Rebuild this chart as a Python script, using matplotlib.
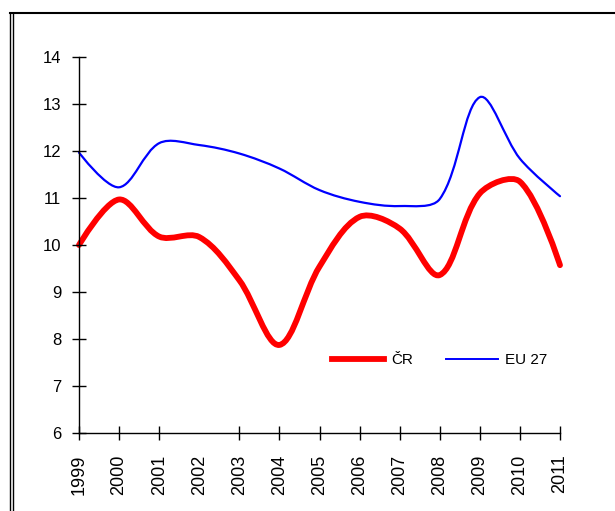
"""Unemployment-style comparison chart: CR vs EU 27 (smoothed lines)."""

import matplotlib

matplotlib.use("Agg")
import matplotlib.pyplot as plt
import numpy as np
from matplotlib.lines import Line2D
from matplotlib.patches import PathPatch
from matplotlib.path import Path

years = [1999, 2000, 2001, 2002, 2003, 2004, 2005, 2006, 2007, 2008, 2009, 2010, 2011]
year_labels = [str(y) for y in years]
cr_values = [10.0, 10.97, 10.18, 10.17, 9.25, 7.87, 9.54, 10.6, 10.35, 9.36, 11.1, 11.35, 9.57]
eu_values = [11.97, 11.23, 12.17, 12.13, 11.95, 11.63, 11.17, 10.92, 10.83, 10.98, 13.15, 11.84, 11.04]
y_ticks = [6, 7, 8, 9, 10, 11, 12, 13, 14]
series_names = ["ČR", "EU 27"]

plt.rcParams["font.family"] = ["Liberation Sans", "DejaVu Sans"]


def smooth_path(ax, xs, ys):
    """Bezier path through the points, control arms scaled by screen segment length."""
    pts = np.column_stack([xs, ys]).astype(float)
    scr = ax.transData.transform(pts)
    n = len(pts)
    seg = np.hypot(*np.diff(scr, axis=0).T)

    def arm(i, towards_next):
        # control arm at point i (none at the end points)
        if i == 0 or i == n - 1:
            return np.zeros(2)
        tangent = pts[i + 1] - pts[i - 1]
        d_prev, d_next = seg[i - 1], seg[i]
        d_here = d_next if towards_next else d_prev
        return tangent * d_here / (d_prev + d_next) / 3

    verts = [pts[0]]
    codes = [Path.MOVETO]
    for i in range(n - 1):
        c1 = pts[i] + arm(i, True)
        c2 = pts[i + 1] - arm(i + 1, False)
        verts += [c1, c2, pts[i + 1]]
        codes += [Path.CURVE4] * 3
    return Path(verts, codes)


fig = plt.figure(figsize=(6.15, 5.11), dpi=100)
ax = fig.add_axes([79 / 615, 1 - 432.7 / 511, (560 - 79) / 615, (432.7 - 57.3) / 511])
ax.set_xlim(years[0], years[-1])
ax.set_ylim(y_ticks[0], y_ticks[-1])

ax.add_patch(PathPatch(smooth_path(ax, years, cr_values), fill=False, clip_on=False,
                       edgecolor="#ff0000", lw=4.2, capstyle="round", joinstyle="round"))
ax.add_patch(PathPatch(smooth_path(ax, years, eu_values), fill=False, clip_on=False,
                       edgecolor="#0000ff", lw=1.6, capstyle="round", joinstyle="round"))

ax.set_xticks(years)
ax.set_xticklabels(year_labels, rotation=90, fontsize=13)
ax.set_yticks(y_ticks)

for side in ["top", "right"]:
    ax.spines[side].set_visible(False)
for side in ["left", "bottom"]:
    ax.spines[side].set_linewidth(1.0)

ax.tick_params(axis="both", direction="inout", length=9.5, width=1.0, colors="black")
ax.tick_params(axis="y", pad=8, labelsize=12)
ax.tick_params(axis="x", pad=11)
# the 2002 tick mark is absent in the original
ax.xaxis.get_major_ticks()[years.index(2002)].tick1line.set_visible(False)

handles = [Line2D([], [], color="#ff0000", lw=4.2),
           Line2D([], [], color="#0000ff", lw=1.4)]
ax.legend(handles, series_names, loc="center", bbox_to_anchor=(0.75, 0.194),
          ncol=2, frameon=False, fontsize=11, handlelength=3.4,
          handletextpad=0.45, columnspacing=2.2)

# outer frame (left and top edges visible)
fig.add_artist(Line2D([10 / 615, 10 / 615], [0, 1 - 13 / 511], color="black", lw=1.0))
fig.add_artist(Line2D([12.5 / 615, 12.5 / 615], [0, 1 - 13 / 511], color="black", lw=1.0))
fig.add_artist(Line2D([10 / 615, 1], [1 - 13 / 511, 1 - 13 / 511], color="black", lw=1.5))

fig.savefig("out.png", dpi=100)
